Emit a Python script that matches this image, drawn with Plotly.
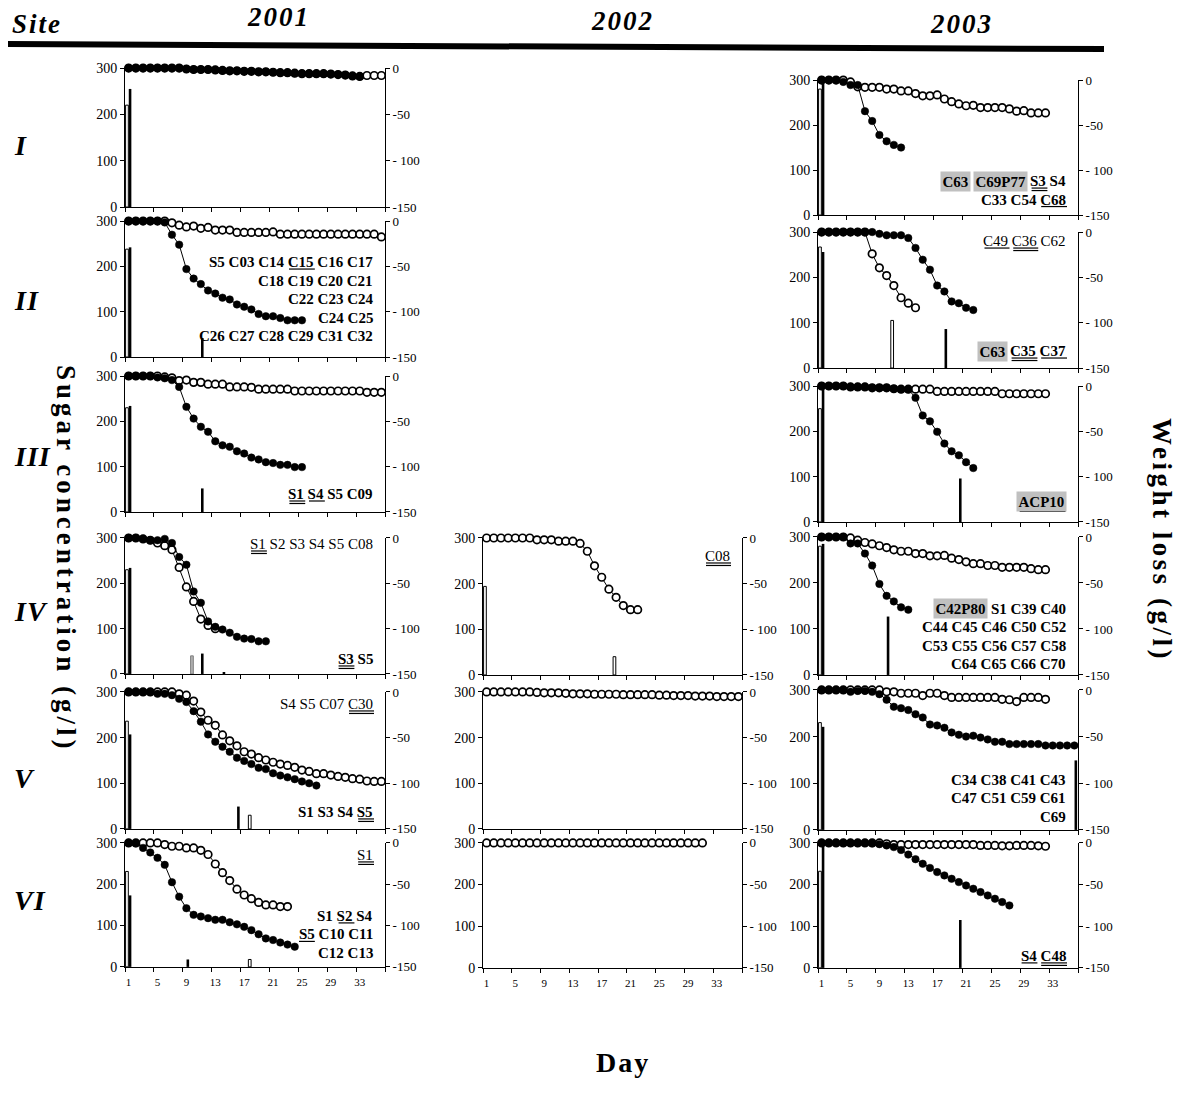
import plotly.graph_objects as go

W, H = 1192, 1111
FONT = "Liberation Serif"

# ---------------- data ----------------
DAY_LABELS = [1, 5, 9, 13, 17, 21, 25, 29, 33]
SUGAR_TICKS = [0, 100, 200, 300]
LOSS_TICKS = [-150, -100, -50, 0]
LOSS_TEXT = ["-150", "- 100", "-50", "0"]

I_2001_open = [300,300,300,300,300,300,300,300,298,297,297,297,296,295,294,294,293,293,292,292,291,290,290,289,288,288,288,288,287,286,285,283,282,284,284,284]
I_2001_filled = [300,300,300,300,300,300,300,300,298,297,297,297,296,295,294,294,293,293,292,292,291,290,290,289,288,288,288,288,287,286,285,283,282]
I_2001_white_days, I_2001_white = [1], [220]
I_2001_black_days, I_2001_black = [1], [255]

I_2003_open = [300,300,300,300,296,285,284,284,284,280,280,276,276,270,265,265,267,258,252,247,243,244,239,239,239,239,236,231,232,227,227,227]
I_2003_filled = [300,300,300,296,289,289,231,209,178,164,156,150]
I_2003_white_days, I_2003_white = [1], [280]
I_2003_black_days, I_2003_black = [1], [300]

II_2001_open = [300,300,300,300,300,300,296,291,287,289,284,286,280,280,280,275,275,275,275,275,276,271,271,271,271,271,271,271,271,271,271,271,271,271,271,265]
II_2001_filled = [300,300,300,300,300,297,270,248,194,173,161,147,140,131,127,116,111,105,95,90,90,86,81,81,81]
II_2001_white_days, II_2001_white = [1], [238]
II_2001_black_days, II_2001_black = [1, 11], [242, 42]

II_2003_open = [300,300,300,300,300,300,300,252,221,204,182,155,143,133]
II_2003_filled = [300,300,300,300,300,300,300,300,296,293,293,293,287,265,239,217,182,169,147,143,133,128]
II_2003_white_days, II_2003_white = [1, 11], [267, 105]
II_2003_black_days, II_2003_black = [1, 18], [256, 86]

III_2001_open = [300,300,300,300,300,298,296,290,291,286,286,282,282,282,276,276,276,275,271,271,271,271,271,267,267,267,267,267,267,267,267,267,267,264,264,264]
III_2001_filled = [300,300,300,300,297,295,291,276,232,206,188,177,156,147,144,134,129,120,116,110,108,104,104,99,99]
III_2001_white_days, III_2001_white = [1], [230]
III_2001_black_days, III_2001_black = [1, 11], [234, 52]

III_2003_open = [300,300,300,300,298,298,298,296,296,296,294,293,293,293,293,293,288,288,288,288,288,288,288,288,288,283,283,283,283,283,283,283]
III_2003_filled = [300,300,300,300,298,298,298,296,296,296,294,293,293,274,235,222,199,173,156,147,132,119]
III_2003_white_days, III_2003_white = [1], [250]
III_2003_black_days, III_2003_black = [1, 20], [300, 96]

IV_2001_open = [300,300,298,295,289,283,274,235,192,160,121,107,100]
IV_2001_filled = [300,300,298,295,295,298,289,258,241,182,157,116,104,98,91,82,78,77,72,72]
IV_2001_white_days, IV_2001_white = [1, 10], [230, 40]
IV_2001_black_days, IV_2001_black = [1, 11, 14], [234, 45, 3]

IV_2002_open = [300,300,300,300,300,300,300,296,296,296,293,293,293,288,271,239,214,188,170,152,143,143]
IV_2002_filled = []
IV_2002_white_days, IV_2002_white = [1, 19], [194, 40]
IV_2002_black_days, IV_2002_black = [], []

IV_2003_open = [300,300,300,300,298,293,288,285,281,277,272,269,269,264,264,259,259,260,254,251,246,242,242,238,238,234,234,234,234,231,229,229]
IV_2003_filled = [300,300,300,300,286,286,264,238,198,172,160,147,142]
IV_2003_white_days, IV_2003_white = [1], [280]
IV_2003_black_days, IV_2003_black = [1, 10], [285, 127]

V_2001_open = [300,300,300,300,300,300,300,296,293,280,256,238,227,206,193,182,169,164,156,151,146,142,139,135,129,126,121,121,118,115,113,110,109,105,104,104]
V_2001_filled = [300,300,300,300,296,296,293,285,278,258,235,207,191,180,169,156,149,142,134,131,122,117,113,109,104,100,95]
V_2001_white_days, V_2001_white = [1, 18], [236, 30]
V_2001_black_days, V_2001_black = [1, 16], [207, 49]

V_2002_open = [300,300,300,300,300,300,300,299,298,298,298,297,296,296,296,295,295,295,295,294,294,294,294,294,293,293,292,292,292,291,291,291,290,290,290,290]
V_2002_filled = []
V_2002_white_days, V_2002_white = [], []
V_2002_black_days, V_2002_black = [], []

V_2003_open = [300,300,300,300,300,300,300,300,300,296,296,293,293,293,288,293,293,288,284,284,284,284,284,284,284,280,279,275,284,284,284,280]
V_2003_filled = [300,300,300,300,296,298,298,296,291,279,264,261,257,248,241,226,224,219,209,204,200,202,198,194,189,189,184,184,184,184,184,181,181,181,181,181]
V_2003_white_days, V_2003_white = [1], [230]
V_2003_black_days, V_2003_black = [1, 36], [221, 149]

VI_2001_open = [300,300,300,300,300,296,292,292,288,288,282,272,249,228,209,188,174,165,156,150,150,146,146]
VI_2001_filled = [300,299,288,277,264,247,205,170,142,126,122,118,114,114,108,103,97,89,79,69,65,59,54,49]
VI_2001_white_days, VI_2001_white = [1, 18], [231, 18]
VI_2001_black_days, VI_2001_black = [1, 9], [173, 18]

VI_2002_open = [300,300,300,300,300,300,300,300,300,300,300,300,300,300,300,300,300,300,300,300,300,300,300,300,300,300,300,300,300,300,300]
VI_2002_filled = []
VI_2002_white_days, VI_2002_white = [], []
VI_2002_black_days, VI_2002_black = [], []

VI_2003_open = [300,300,300,300,300,300,300,300,300,298,296,296,296,296,296,296,296,296,296,296,296,296,294,294,294,293,293,294,294,294,293,292]
VI_2003_filled = [300,300,300,300,300,300,300,299,297,294,290,283,272,261,250,240,230,222,214,206,198,190,182,174,166,158,150]
VI_2003_white_days, VI_2003_white = [1], [232]
VI_2003_black_days, VI_2003_black = [1, 20], [300, 115]

# strain labels: lines of (weight, [(text, mark)]); mark: "" plain, "u" underline, "uu" double underline, "bg" shaded
LBL_I_2003 = [("b", [("C63", "bg"), ("C69P77", "bg"), ("S3", "uu"), ("S4", "")]),
              ("b", [("C33", ""), ("C54", ""), ("C68", "u")])]
LBL_II_2001 = [("b", [("S5", ""), ("C03", ""), ("C14", ""), ("C15", "u"), ("C16", ""), ("C17", "")]),
               ("b", [("C18", ""), ("C19", ""), ("C20", ""), ("C21", "")]),
               ("b", [("C22", ""), ("C23", ""), ("C24", "")]),
               ("b", [("C24", ""), ("C25", "")]),
               ("b", [("C26", ""), ("C27", ""), ("C28", ""), ("C29", ""), ("C31", ""), ("C32", "")])]
LBL_II_2003_top = [("r", [("C49", "u"), ("C36", "uu"), ("C62", "")])]
LBL_II_2003_bot = [("b", [("C63", "bg"), ("C35", "uu"), ("C37", "u")])]
LBL_III_2001 = [("b", [("S1", "uu"), ("S4", "u"), ("S5", ""), ("C09", "")])]
LBL_III_2003 = [("b", [("ACP10", "bguu")])]
LBL_IV_2001_top = [("r", [("S1", "uu"), ("S2", ""), ("S3", ""), ("S4", ""), ("S5", ""), ("C08", "")])]
LBL_IV_2001_bot = [("b", [("S3", "uu"), ("S5", "")])]
LBL_IV_2002 = [("r", [("C08", "uu")])]
LBL_IV_2003 = [("b", [("C42P80", "bg"), ("S1", ""), ("C39", ""), ("C40", "")]),
               ("b", [("C44", ""), ("C45", ""), ("C46", ""), ("C50", ""), ("C52", "")]),
               ("b", [("C53", ""), ("C55", ""), ("C56", ""), ("C57", ""), ("C58", "")]),
               ("b", [("C64", ""), ("C65", ""), ("C66", ""), ("C70", "")])]
LBL_V_2001_top = [("r", [("S4", ""), ("S5", ""), ("C07", ""), ("C30", "uu")])]
LBL_V_2001_bot = [("b", [("S1", ""), ("S3", ""), ("S4", ""), ("S5", "uu")])]
LBL_V_2003 = [("b", [("C34", ""), ("C38", ""), ("C41", ""), ("C43", "")]),
              ("b", [("C47", ""), ("C51", ""), ("C59", ""), ("C61", "")]),
              ("b", [("C69", "")])]
LBL_VI_2001_top = [("r", [("S1", "uu")])]
LBL_VI_2001_bot = [("b", [("S1", ""), ("S2", "u"), ("S4", "")]),
                   ("b", [("S5", "u"), ("C10", ""), ("C11", "")]),
                   ("b", [("C12", ""), ("C13", "")])]
LBL_VI_2003 = [("b", [("S4", "u"), ("C48", "uu")])]

SITES = ["I", "II", "III", "IV", "V", "VI"]
YEARS = ["2001", "2002", "2003"]

# ---------------- layout geometry (pixels of the target picture) ----------------
COLX = {"2001": (125, 385), "2002": (483, 742), "2003": (818, 1078)}
ROWY = {
    "2001": [(68, 207), (221, 357), (376, 512), (538, 674), (692, 829), (843, 967)],
    "2002": [None, None, None, (538, 675), (692, 829), (843, 968)],
    "2003": [(80, 215), (232, 368), (386, 522), (537, 675), (690, 830), (843, 968)],
}

# the page photograph maps figure y to picture y as y*0.9867 + 6.9; undo that here
Y_SCALE, Y_OFF = 0.9867, 6.9

def px(x):
    return x / W

def py(y):
    return 1 - ((y - Y_OFF) / Y_SCALE) / H

panels = [
    ("2001", 0, I_2001_open, I_2001_filled, I_2001_white_days, I_2001_white, I_2001_black_days, I_2001_black, []),
    ("2003", 0, I_2003_open, I_2003_filled, I_2003_white_days, I_2003_white, I_2003_black_days, I_2003_black, [(LBL_I_2003, 181)]),
    ("2001", 1, II_2001_open, II_2001_filled, II_2001_white_days, II_2001_white, II_2001_black_days, II_2001_black, [(LBL_II_2001, 262)]),
    ("2003", 1, II_2003_open, II_2003_filled, II_2003_white_days, II_2003_white, II_2003_black_days, II_2003_black, [(LBL_II_2003_top, 241), (LBL_II_2003_bot, 351)]),
    ("2001", 2, III_2001_open, III_2001_filled, III_2001_white_days, III_2001_white, III_2001_black_days, III_2001_black, [(LBL_III_2001, 494)]),
    ("2003", 2, III_2003_open, III_2003_filled, III_2003_white_days, III_2003_white, III_2003_black_days, III_2003_black, [(LBL_III_2003, 502)]),
    ("2001", 3, IV_2001_open, IV_2001_filled, IV_2001_white_days, IV_2001_white, IV_2001_black_days, IV_2001_black, [(LBL_IV_2001_top, 544), (LBL_IV_2001_bot, 659)]),
    ("2002", 3, IV_2002_open, IV_2002_filled, IV_2002_white_days, IV_2002_white, IV_2002_black_days, IV_2002_black, [(LBL_IV_2002, 556)]),
    ("2003", 3, IV_2003_open, IV_2003_filled, IV_2003_white_days, IV_2003_white, IV_2003_black_days, IV_2003_black, [(LBL_IV_2003, 609)]),
    ("2001", 4, V_2001_open, V_2001_filled, V_2001_white_days, V_2001_white, V_2001_black_days, V_2001_black, [(LBL_V_2001_top, 704), (LBL_V_2001_bot, 812)]),
    ("2002", 4, V_2002_open, V_2002_filled, V_2002_white_days, V_2002_white, V_2002_black_days, V_2002_black, []),
    ("2003", 4, V_2003_open, V_2003_filled, V_2003_white_days, V_2003_white, V_2003_black_days, V_2003_black, [(LBL_V_2003, 780)]),
    ("2001", 5, VI_2001_open, VI_2001_filled, VI_2001_white_days, VI_2001_white, VI_2001_black_days, VI_2001_black, [(LBL_VI_2001_top, 855), (LBL_VI_2001_bot, 916)]),
    ("2002", 5, VI_2002_open, VI_2002_filled, VI_2002_white_days, VI_2002_white, VI_2002_black_days, VI_2002_black, []),
    ("2003", 5, VI_2003_open, VI_2003_filled, VI_2003_white_days, VI_2003_white, VI_2003_black_days, VI_2003_black, [(LBL_VI_2003, 956)]),
]

# ---------------- text width helpers (Times metrics) ----------------
BW = {"C": .722, "S": .556, "P": .611, "A": .722, " ": .25}
RW = {"C": .667, "S": .556, "P": .556, "A": .722, " ": .25}

def tw(s, bold, size):
    tab = BW if bold else RW
    return sum(tab.get(ch, .5) for ch in s) * size

LBL_SIZE = 15
LINE_STEP = 18.5

fig = go.Figure()
annotations = []
shapes = []

def uline(xa, xb, y, w=1.2):
    shapes.append(dict(type="line", xref="paper", yref="paper", x0=px(xa), x1=px(xb),
                       y0=py(y), y1=py(y), line=dict(color="black", width=w)))

def add_label_lines(lines, y0, xr):
    for li, (wt, segs) in enumerate(lines):
        y = y0 + li * LINE_STEP
        bold = wt == "b"
        sp = tw(" ", bold, LBL_SIZE)
        groups, cur = [], []
        for t, m in segs:
            if "bg" in m:
                if cur:
                    groups.append(("plain", cur)); cur = []
                groups.append(("bg", [(t, m)]))
            else:
                cur.append((t, m))
        if cur:
            groups.append(("plain", cur))
        cursor = xr
        for kind, items in reversed(groups):
            raw = " ".join(t for t, m in items)
            html = "<b>%s</b>" % raw if bold else raw
            wdt = tw(raw, bold, LBL_SIZE)
            pad = 1.5 if kind == "bg" else 0
            ann = dict(x=px(cursor), y=py(y), xref="paper", yref="paper", text=html,
                       showarrow=False, xanchor="right", yanchor="middle", borderpad=pad,
                       font=dict(family=FONT, size=LBL_SIZE, color="black"))
            if kind == "bg":
                ann["bgcolor"] = "#c0c0c0"
            annotations.append(ann)
            wr = cursor - pad
            for t, m in reversed(items):
                ww = tw(t, bold, LBL_SIZE)
                if "u" in m:
                    uline(wr - ww, wr, y + 7)
                    if "uu" in m:
                        uline(wr - ww, wr, y + 9.5)
                wr -= ww + sp
            cursor -= wdt + 2 * pad + sp

for i, (year, r, op, fi, wd, wv, bd, bv, labels) in enumerate(panels, start=1):
    xa = "x" if i == 1 else "x%d" % i
    yl_i, yr_i = 2 * i - 1, 2 * i
    yl = "y" if yl_i == 1 else "y%d" % yl_i
    yr = "y%d" % yr_i
    x0, x1 = COLX[year]
    y0, y1 = ROWY[year][r]
    bottom = r == 5

    if wd:
        special = [(year == "2001" and r == 3 and d == 10) for d in wd]
        fig.add_trace(go.Bar(x=wd, y=wv, xaxis=xa, yaxis=yl, width=0.38, offset=-0.42,
                             marker=dict(color=["#b0b0b0" if s else "white" for s in special],
                                         line=dict(color=["#808080" if s else "black" for s in special], width=1)),
                             showlegend=False, hoverinfo="skip"))
    if bd:
        fig.add_trace(go.Bar(x=bd, y=bv, xaxis=xa, yaxis=yl, width=0.36, offset=0.02,
                             marker=dict(color="black", line=dict(color="black", width=0)),
                             showlegend=False, hoverinfo="skip"))
    if op:
        fig.add_trace(go.Scatter(x=list(range(1, len(op) + 1)), y=op, xaxis=xa, yaxis=yl,
                                 mode="lines+markers", cliponaxis=False,
                                 line=dict(color="black", width=1),
                                 marker=dict(symbol="circle", size=7.5, color="white",
                                             line=dict(color="black", width=1.7)),
                                 showlegend=False, hoverinfo="skip"))
    if fi:
        fig.add_trace(go.Scatter(x=list(range(1, len(fi) + 1)), y=fi, xaxis=xa, yaxis=yl,
                                 mode="lines+markers", cliponaxis=False,
                                 line=dict(color="black", width=1),
                                 marker=dict(symbol="circle", size=7.5, color="black",
                                             line=dict(color="black", width=0.5)),
                                 showlegend=False, hoverinfo="skip"))
    # carrier for the weight-loss axis
    fig.add_trace(go.Scatter(x=[1], y=[0], xaxis=xa, yaxis=yr, mode="markers",
                             marker=dict(opacity=0), showlegend=False, hoverinfo="skip"))

    fig.layout["xaxis" if i == 1 else "xaxis%d" % i] = dict(
        domain=[px(x0), px(x1)], anchor=yl, range=[0.5, 36.5],
        tickmode="array", tickvals=DAY_LABELS, ticks="", showticklabels=bottom,
        ticklabelstandoff=5,
        tickfont=dict(family=FONT, size=11, color="black"),
        minor=dict(tickmode="array", tickvals=[0.5 + 4 * k for k in range(10)],
                   ticks="outside", ticklen=4, tickcolor="black", tickwidth=1),
        showline=True, linecolor="black", linewidth=1, showgrid=False, zeroline=False,
        fixedrange=True)
    fig.layout["yaxis" if yl_i == 1 else "yaxis%d" % yl_i] = dict(
        domain=[py(y1), py(y0)], anchor=xa, range=[0, 300],
        tickmode="array", tickvals=SUGAR_TICKS, ticks="outside", ticklen=4,
        tickcolor="black", tickfont=dict(family=FONT, size=14, color="black"),
        showline=True, linecolor="black", linewidth=1, showgrid=False, zeroline=False,
        fixedrange=True)
    fig.layout["yaxis%d" % yr_i] = dict(
        domain=[py(y1), py(y0)], anchor=xa, overlaying=yl, side="right", range=[-150, 0],
        tickmode="array", tickvals=LOSS_TICKS, ticktext=LOSS_TEXT, ticks="outside", ticklen=4,
        tickcolor="black", tickfont=dict(family=FONT, size=13, color="black"),
        showline=True, linecolor="black", linewidth=1, showgrid=False, zeroline=False,
        fixedrange=True)

    for lines, ly in labels:
        add_label_lines(lines, ly, x1 - 11)

# header and titles
def txt(x, y, s, size, xanchor="center", angle=0, spacing=0):
    if spacing:
        s = '<span style="letter-spacing:%gpx">%s</span>' % (spacing, s)
    annotations.append(dict(x=px(x), y=py(y), xref="paper", yref="paper", text=s,
                            showarrow=False, xanchor=xanchor, yanchor="middle", textangle=angle,
                            font=dict(family=FONT, size=size, color="black")))

txt(10, 24, "<b><i>Site</i></b>", 27, xanchor="left", spacing=2)
txt(278, 17, "<b><i>2001</i></b>", 27, spacing=2)
txt(622, 21, "<b><i>2002</i></b>", 27, spacing=2)
txt(961, 24, "<b><i>2003</i></b>", 27, spacing=2)
for s, y in zip(SITES, [145, 300, 456, 612, 779, 901]):
    txt(12, y, "<b><i>%s</i></b>" % s, 28, xanchor="left", spacing=1)
txt(66, 558, "<b>Sugar concentration (g/l)</b>", 27, angle=90, spacing=4)
txt(1162, 540, "<b>Weight loss (g/l)</b>", 27, angle=90, spacing=3.5)
txt(623, 1063, "<b>Day</b>", 28, spacing=2)

shapes.append(dict(type="line", xref="paper", yref="paper", x0=px(8), y0=py(44), x1=px(1104), y1=py(49),
                   line=dict(color="black", width=6)))

fig.update_layout(
    width=W, height=H, margin=dict(l=0, r=0, t=0, b=0),
    paper_bgcolor="white", plot_bgcolor="rgba(0,0,0,0)",
    showlegend=False, barmode="overlay",
    annotations=annotations, shapes=shapes,
)
fig.write_html("out.html", config={"displayModeBar": False},
               post_script="document.body.style.margin='0px';document.body.style.overflow='hidden';")
